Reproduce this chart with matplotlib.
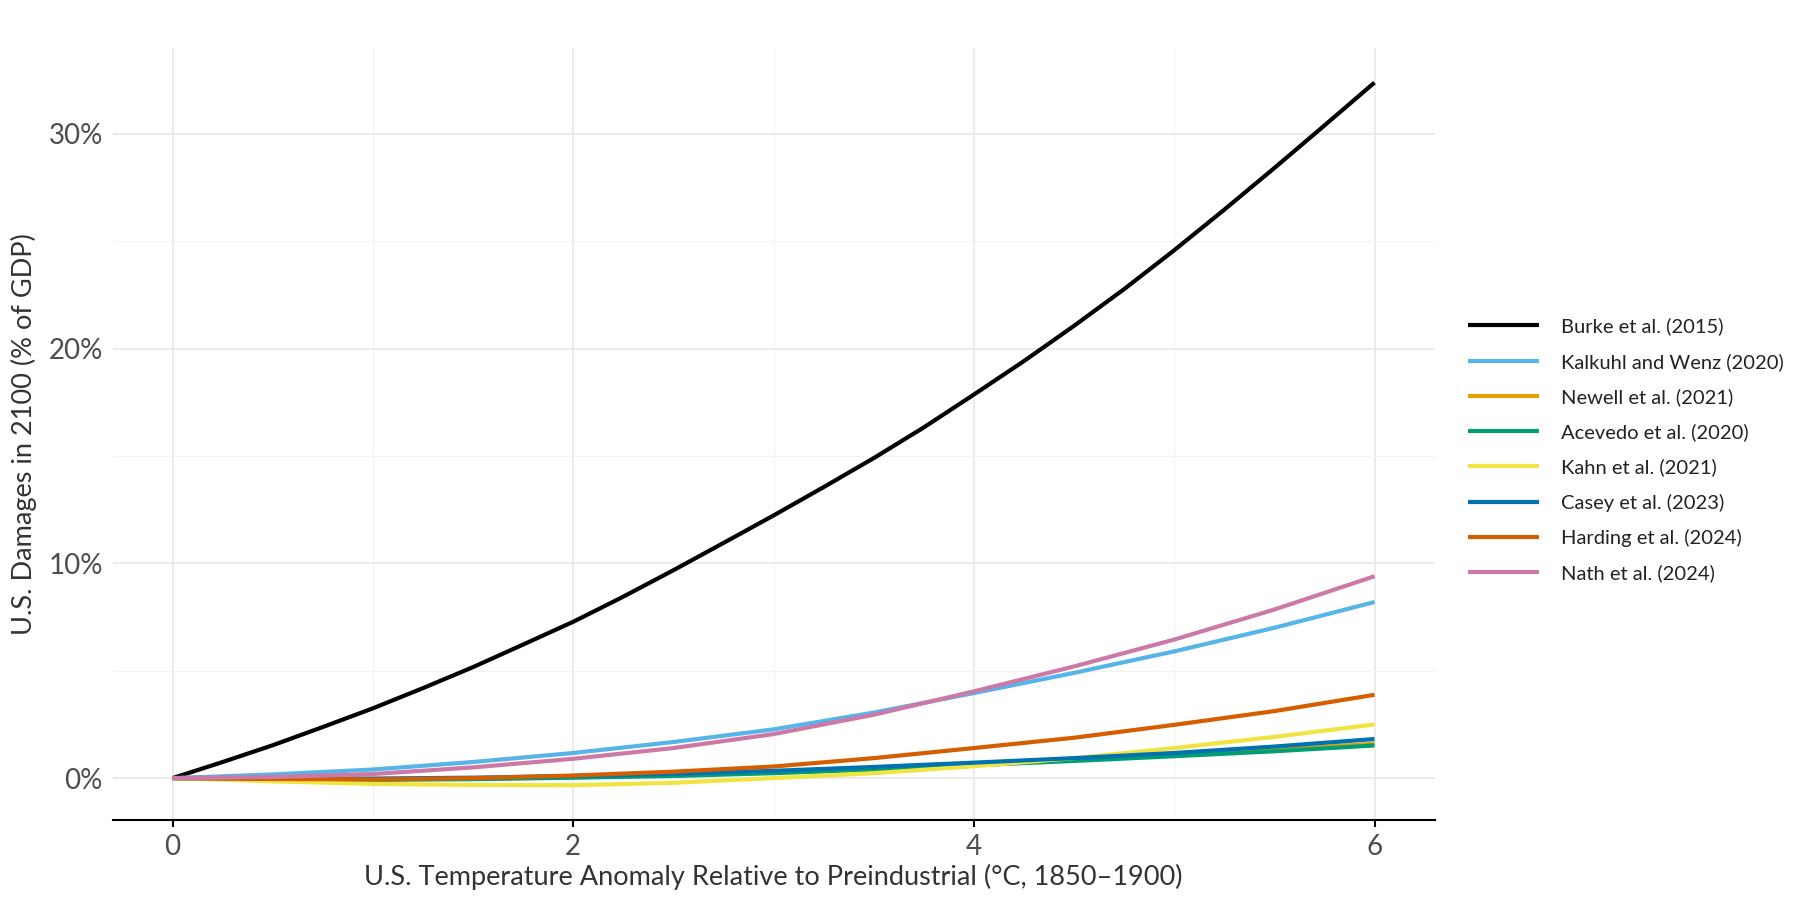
import matplotlib
matplotlib.use("Agg")
import matplotlib.pyplot as plt
from matplotlib.ticker import MultipleLocator, FuncFormatter

plt.rcParams['font.family'] = ['Lato', 'DejaVu Sans']

# Burke read at a finer step because its curvature is strongest
temp_fine = [0, 0.25, 0.5, 0.75, 1, 1.25, 1.5, 1.75, 2, 2.25, 2.5, 2.75, 3,
             3.25, 3.5, 3.75, 4, 4.25, 4.5, 4.75, 5, 5.25, 5.5, 5.75, 6]
burke = [0, 0.75, 1.53, 2.38, 3.25, 4.19, 5.17, 6.22, 7.28, 8.45, 9.68, 10.95, 12.23,
         13.55, 14.9, 16.33, 17.86, 19.42, 21.06, 22.77, 24.58, 26.47, 28.41, 30.39, 32.39]

temp = [0, 0.5, 1, 1.5, 2, 2.5, 3, 3.5, 4, 4.5, 5, 5.5, 6]
kalkuhl = [0, 0.17, 0.4, 0.75, 1.17, 1.68, 2.27, 3.05, 3.96, 4.9, 5.9, 7.0, 8.2]
newell = [0, -0.03, -0.05, -0.03, 0.04, 0.13, 0.26, 0.42, 0.62, 0.84, 1.07, 1.32, 1.6]
acevedo = [0, -0.05, -0.08, -0.05, 0.02, 0.1, 0.23, 0.4, 0.6, 0.8, 1.02, 1.25, 1.52]
kahn = [0, -0.15, -0.27, -0.32, -0.33, -0.22, 0.0, 0.23, 0.55, 0.93, 1.4, 1.92, 2.5]
casey = [0, -0.02, -0.02, 0.02, 0.1, 0.2, 0.34, 0.52, 0.72, 0.93, 1.17, 1.47, 1.82]
harding = [0, -0.04, -0.06, 0.0, 0.12, 0.3, 0.54, 0.93, 1.4, 1.88, 2.48, 3.12, 3.88]
nath = [0, 0.05, 0.19, 0.5, 0.9, 1.4, 2.05, 2.95, 4.04, 5.2, 6.45, 7.85, 9.4]

labels = ["Burke et al. (2015)", "Kalkuhl and Wenz (2020)", "Newell et al. (2021)",
          "Acevedo et al. (2020)", "Kahn et al. (2021)", "Casey et al. (2023)",
          "Harding et al. (2024)", "Nath et al. (2024)"]
xs = [temp_fine, temp, temp, temp, temp, temp, temp, temp]
series = [burke, kalkuhl, newell, acevedo, kahn, casey, harding, nath]
colors = ["#000000", "#56B4E9", "#E69F00", "#009E73", "#F0E442", "#0072B2", "#D55E00", "#CC79A7"]

fig = plt.figure(figsize=(18, 9), dpi=100)
ax = fig.add_axes([0.0625, 0.0889, 0.7345, 0.8578])

handles = []
for x, s, lab, c in zip(xs, series, labels, colors):
    h, = ax.plot(x, s, color=c, lw=3.0, label=lab, solid_capstyle='butt',
                 solid_joinstyle='round')
    handles.append(h)

ax.set_xlim(-0.3, 6.3)
ax.set_ylim(-1.95, 34.0)
ax.xaxis.set_major_locator(MultipleLocator(2))
ax.xaxis.set_minor_locator(MultipleLocator(1))
ax.yaxis.set_major_locator(MultipleLocator(10))
ax.yaxis.set_minor_locator(MultipleLocator(5))
ax.yaxis.set_major_formatter(FuncFormatter(lambda v, p: f"{v:.0f}%"))

ax.grid(which='major', color='#ebebeb', lw=1.4)
ax.grid(which='minor', color='#f3f3f3', lw=0.9)
ax.set_axisbelow(True)
for side in ['top', 'right', 'left']:
    ax.spines[side].set_visible(False)
ax.spines['bottom'].set_color('black')
ax.spines['bottom'].set_linewidth(1.5)

ax.tick_params(axis='x', which='major', length=5, width=1.5, color='black',
               labelsize=20, labelcolor='#4d4d4d', pad=5)
ax.tick_params(axis='x', which='minor', length=0)
ax.tick_params(axis='y', which='both', length=0, labelsize=20, labelcolor='#4d4d4d', pad=7)

ax.set_xlabel("U.S. Temperature Anomaly Relative to Preindustrial (°C, 1850–1900)",
              fontsize=19.5, color='#333333', labelpad=3)
ax.set_ylabel("U.S. Damages in 2100 (% of GDP)", fontsize=19.5, color='#333333', labelpad=8)

leg = fig.legend(handles=handles, labels=labels, loc='center left',
                 bbox_to_anchor=(0.8156, 0.5), bbox_transform=fig.transFigure,
                 frameon=False, fontsize=14.5, handlelength=3.5, handletextpad=1.1,
                 labelspacing=0.86, borderpad=0, borderaxespad=0, labelcolor='#222222')
for h in leg.get_lines():
    h.set_linewidth(3.0)

fig.savefig("out.png", dpi=100, facecolor='white')
